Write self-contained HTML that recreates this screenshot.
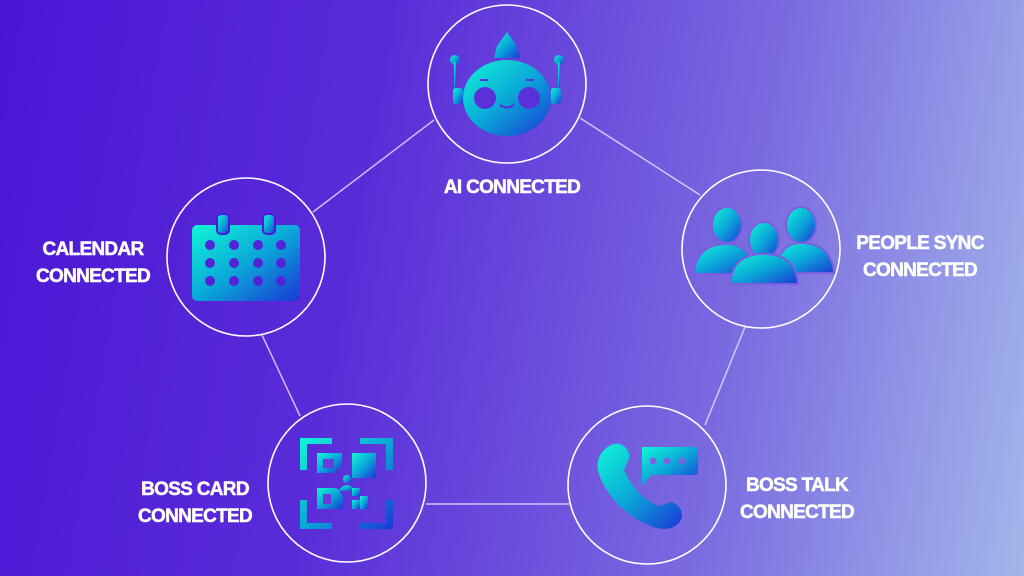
<!DOCTYPE html>
<html><head><style>
body{margin:0;width:1024px;height:576px;overflow:hidden;background:linear-gradient(100deg,#4a16d6 0%,#5a2cd8 35%,#7a6ae0 70%,#a2b6ea 100%);font-family:"Liberation Sans",sans-serif}
.t{position:absolute;color:#fff;font-weight:bold;font-size:19px;letter-spacing:-0.7px;text-align:center;line-height:27px;transform:translateX(-50%);white-space:nowrap;-webkit-text-stroke:0.5px #fff}
</style></head><body>
<svg width="1024" height="576" style="position:absolute;left:0;top:0">
<defs>
<linearGradient id="g" x1="0" y1="0" x2="1" y2="1"><stop offset="0" stop-color="#12f6d6"/><stop offset="0.5" stop-color="#0aa8d8"/><stop offset="1" stop-color="#1a38d6"/></linearGradient>
</defs>
<g stroke="#e8e4ff" stroke-width="1.5" stroke-opacity="0.8" fill="none">
<line x1="434" y1="120" x2="313" y2="212"/>
<line x1="580" y1="118" x2="700" y2="195"/>
<line x1="262" y1="335" x2="300" y2="416"/>
<line x1="745" y1="327" x2="705" y2="425"/>
<line x1="426" y1="504" x2="569" y2="504"/>
</g>
<g stroke="#fff" stroke-width="1.6" fill="none">
<circle cx="507" cy="84" r="79"/>
<circle cx="246" cy="257" r="79"/>
<circle cx="761" cy="249" r="79"/>
<circle cx="347" cy="483" r="79"/>
<circle cx="647" cy="485" r="79"/>
</g>
<!-- robot -->
<g fill="url(#g)">
<path d="M507 32 L517 46 L520 58 L494 58 L497 46Z"/>
<ellipse cx="507" cy="98" rx="44" ry="38"/>
<rect x="453" y="88" width="10" height="16" rx="3"/><rect x="551" y="88" width="10" height="16" rx="3"/>
<circle cx="455" cy="60" r="5"/><circle cx="559" cy="60" r="5"/>
<rect x="454" y="62" width="2" height="26"/><rect x="558" y="62" width="2" height="26"/>
</g>
<g fill="#5a30d8"><circle cx="485" cy="98" r="11"/><circle cx="529" cy="98" r="11"/></g>
<path d="M500 105 q7 5 14 0" stroke="#5a30d8" stroke-width="2" fill="none"/>
<g stroke="#5a30d8" stroke-width="2"><line x1="480" y1="80" x2="488" y2="80"/><line x1="526" y1="80" x2="534" y2="80"/></g>
<!-- calendar -->
<rect x="192" y="225" width="108" height="76" rx="5" fill="url(#g)"/>
<rect x="217" y="214" width="12" height="20" rx="4" fill="url(#g)" stroke="#4c1ad6" stroke-width="2"/>
<rect x="263" y="214" width="12" height="20" rx="4" fill="url(#g)" stroke="#4c1ad6" stroke-width="2"/>
<g fill="#5224d8">
<circle cx="210" cy="245" r="5"/><circle cx="234" cy="245" r="5"/><circle cx="258" cy="245" r="5"/><circle cx="281" cy="245" r="5"/>
<circle cx="210" cy="263" r="5"/><circle cx="234" cy="263" r="5"/><circle cx="258" cy="263" r="5"/><circle cx="281" cy="263" r="5"/>
<circle cx="210" cy="281" r="5"/><circle cx="234" cy="281" r="5"/><circle cx="258" cy="281" r="5"/><circle cx="281" cy="281" r="5"/>
</g>
<!-- people -->
<g fill="url(#g)" stroke="#7a5ee0" stroke-width="2">
<ellipse cx="801" cy="225" rx="15" ry="18"/><path d="M776 273 q2-30 25-30 q30 0 33 30z"/>
<ellipse cx="727" cy="225" rx="15" ry="18"/><path d="M694 274 q2-30 33-30 q24 0 28 30z"/>
<ellipse cx="764" cy="240" rx="15" ry="18"/><path d="M730 284 q2-30 34-30 q32 0 34 30z"/>
</g>
<!-- boss card -->
<g fill="url(#g)">
<path d="M300 438h32v6h-25v26h-7z M360 438h33v32h-7v-26h-26z M300 500h7v23h25v6h-32z M386 500h7v29h-33v-6h26z"/>
<path d="M317 453h25v12l-8 8h-17z" /><rect x="352" y="453" width="24" height="25"/>
<path d="M317 488h20l6 8v13h-26z"/>
<circle cx="347" cy="479" r="4"/><path d="M338 491q9-12 18 0z"/>
<rect x="352" y="488" width="8" height="8"/><rect x="360" y="496" width="8" height="13"/><rect x="352" y="500" width="8" height="9"/>
</g>
<g fill="#6a3cdc"><rect x="323" y="459" width="11" height="9"/><rect x="323" y="494" width="8" height="10"/></g>
<!-- boss talk -->
<path d="M604 450 c10-10 22-8 26 6 l-6 14 c8 18 20 30 34 36 l14-4 c12 6 12 16 6 22 c-10 8-22 6-40-4 c-20-12-36-32-40-50 c-2-8 2-16 6-20z" fill="url(#g)"/>
<path d="M642 447h52q4 0 4 4v20q0 4-4 4h-42l-10 10z" fill="url(#g)"/>
<g fill="#7a62e0"><circle cx="653" cy="461" r="3.5"/><circle cx="667" cy="461" r="3.5"/><circle cx="682" cy="461" r="3.5"/></g>
</svg>
<div class="t" style="left:512px;top:174px">AI CONNECTED</div>
<div class="t" style="left:93px;top:236px">CALENDAR<br>CONNECTED</div>
<div class="t" style="left:920px;top:230px">PEOPLE SYNC<br>CONNECTED</div>
<div class="t" style="left:195px;top:476px">BOSS CARD<br>CONNECTED</div>
<div class="t" style="left:797px;top:472px">BOSS TALK<br>CONNECTED</div>
</body></html>
